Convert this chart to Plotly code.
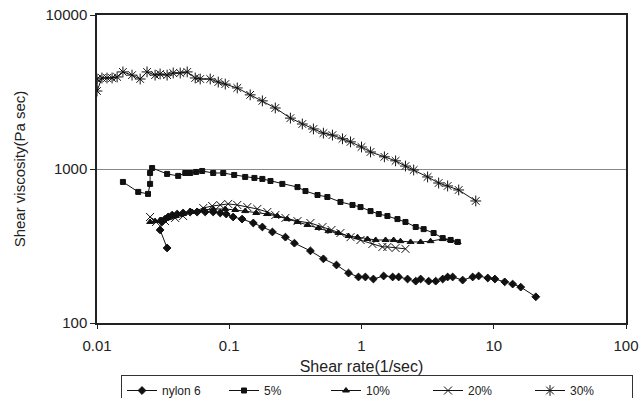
import plotly.graph_objects as go

# ---- data ----
nylon_x = [0.0339, 0.0300, 0.0310, 0.0327, 0.0345, 0.0370, 0.0404, 0.0448, 0.0507, 0.0573, 0.0658, 0.0756,
           0.0855, 0.0949, 0.107, 0.125, 0.152, 0.178, 0.212, 0.266, 0.311, 0.411, 0.515, 0.647, 0.798, 0.949,
           1.07, 1.23, 1.47, 1.72, 1.91, 2.23, 2.57, 2.80, 3.22, 3.64, 4.11, 4.48, 4.89, 5.82, 6.93, 7.69,
           9.01, 10.2, 12.1, 13.9, 16.0, 20.8]
nylon_y = [307, 402, 453, 473, 488, 502, 510, 518, 526, 526, 526, 526,
           518, 510, 488, 473, 446, 420, 390, 361, 330, 294, 261, 238, 211, 199,
           199, 193, 202, 199, 199, 193, 187, 193, 187, 187, 193, 199, 199, 190, 199, 202,
           196, 193, 185, 179, 171, 148]

p5_x = [0.0157, 0.0205, 0.0243, 0.0252, 0.0252, 0.0261, 0.0339, 0.0411, 0.0465, 0.0507, 0.0562, 0.0624,
        0.0756, 0.0901, 0.109, 0.132, 0.155, 0.178, 0.205, 0.252, 0.328, 0.377, 0.465, 0.552, 0.693,
        0.855, 0.983, 1.17, 1.35, 1.57, 1.87, 2.15, 2.57, 2.95, 3.51, 4.11, 4.72, 5.34]
p5_y = [824, 710, 689, 800, 942, 1015, 929, 902, 942, 942, 957, 971,
        942, 942, 915, 888, 875, 862, 836, 800, 763, 719, 678, 658, 611,
        584, 566, 533, 510, 495, 473, 453, 420, 407, 384, 356, 346, 336]

p10_x = [0.0252, 0.0275, 0.0300, 0.0339, 0.0390, 0.0448, 0.0525, 0.0636, 0.0756, 0.0933, 0.111, 0.132,
         0.160, 0.194, 0.231, 0.275, 0.328, 0.390, 0.472, 0.562, 0.670, 0.798, 0.933, 1.11, 1.28, 1.52,
         1.75, 1.97, 2.35, 2.80, 3.33, 4.11, 4.72, 5.34]
p10_y = [453, 459, 466, 481, 495, 510, 526, 542, 550, 550, 542, 533,
         518, 510, 495, 473, 453, 433, 414, 395, 384, 367, 361, 351, 346, 346,
         346, 340, 336, 336, 340, 351, 346, 336]

p20_x = [0.0252, 0.0280, 0.0327, 0.0390, 0.0448, 0.0534, 0.0636, 0.0743, 0.0855, 0.0982, 0.115, 0.137,
         0.163, 0.194, 0.223, 0.266, 0.328, 0.411, 0.507, 0.593, 0.693, 0.826, 0.983, 1.21, 1.44, 1.57,
         1.81, 2.15]
p20_y = [488, 453, 459, 481, 495, 526, 558, 575, 584, 593, 584, 566,
         550, 526, 502, 481, 459, 446, 420, 402, 384, 361, 346, 326, 312, 312,
         307, 303]

p30_x = [0.0100, 0.0100, 0.0109, 0.0119, 0.0130, 0.0142, 0.0157, 0.0184, 0.0212, 0.0239, 0.0275, 0.0300,
         0.0339, 0.0377, 0.0426, 0.0481, 0.0553, 0.0603, 0.0718, 0.0826, 0.0933, 0.115, 0.144, 0.178,
         0.223, 0.290, 0.357, 0.433, 0.515, 0.603, 0.718, 0.826, 1.0, 1.17, 1.49, 1.81, 2.15, 2.48,
         3.16, 3.83, 4.48, 5.43, 7.31]
p30_y = [3840, 3210, 3900, 3900, 3900, 3960, 4270, 4070, 3840, 4270, 4070, 4140,
         4070, 4200, 4200, 4270, 3900, 3840, 3840, 3670, 3560, 3360, 3030, 2770,
         2490, 2140, 1960, 1820, 1710, 1660, 1570, 1500, 1390, 1290, 1200, 1130, 1045, 985,
         888, 811, 776, 731, 620]

series = [
    ("nylon 6", nylon_x, nylon_y, "diamond", 6),
    ("5%", p5_x, p5_y, "square", 5),
    ("10%", p10_x, p10_y, "triangle-up", 6),
    ("20%", p20_x, p20_y, "x-thin-open", 8),
    ("30%", p30_x, p30_y, "asterisk-open", 9),
]

x_ticks = [0.01, 0.1, 1, 10, 100]
x_ticktext = ["0.01", "0.1", "1", "10", "100"]
y_ticks = [100, 1000, 10000]
y_ticktext = ["100", "1000", "10000"]

fig = go.Figure()
for name, xs, ys, sym, sz in series:
    fig.add_trace(go.Scatter(
        x=xs, y=ys, name=name, mode="lines+markers",
        line=dict(color="#111111", width=1),
        marker=dict(symbol=sym, size=sz, color="#111111",
                    line=dict(color="#111111", width=1)),
    ))

font_family = "Liberation Sans"
fig.update_layout(
    width=639, height=398,
    margin=dict(l=97, r=13, t=15, b=75, autoexpand=False),
    paper_bgcolor="white", plot_bgcolor="white",
    font=dict(family=font_family, size=15, color="#222222"),
    showlegend=True,
    legend=dict(
        orientation="h", x=121 / 639, xanchor="left", xref="container",
        y=1 - 375 / 398, yanchor="top", yref="container",
        bordercolor="#333333", borderwidth=1, bgcolor="white",
        font=dict(size=12, color="#222222"),
        entrywidth=57, entrywidthmode="pixels",
        itemsizing="trace",
    ),
    xaxis=dict(
        type="log", range=[-2, 2],
        tickvals=x_ticks, ticktext=x_ticktext,
        showgrid=False, zeroline=False,
        showline=True, linecolor="#222222", linewidth=1.5, mirror=True,
        ticks="outside", ticklen=4, tickcolor="#222222",
        ticklabelstandoff=4,
        tickfont=dict(size=15),
        title=dict(text="Shear rate(1/sec)", font=dict(size=16), standoff=8),
    ),
    yaxis=dict(
        type="log", range=[2, 4],
        tickvals=y_ticks, ticktext=y_ticktext,
        showgrid=True, gridcolor="#888888", gridwidth=1,
        zeroline=False,
        showline=True, linecolor="#222222", linewidth=1.5, mirror=True,
        ticks="outside", ticklen=5, tickcolor="#222222",
        tickfont=dict(size=15),
        title=dict(text="Shear viscosity(Pa sec)", font=dict(size=15), standoff=16),
    ),
)

fig.write_html("out.html")
